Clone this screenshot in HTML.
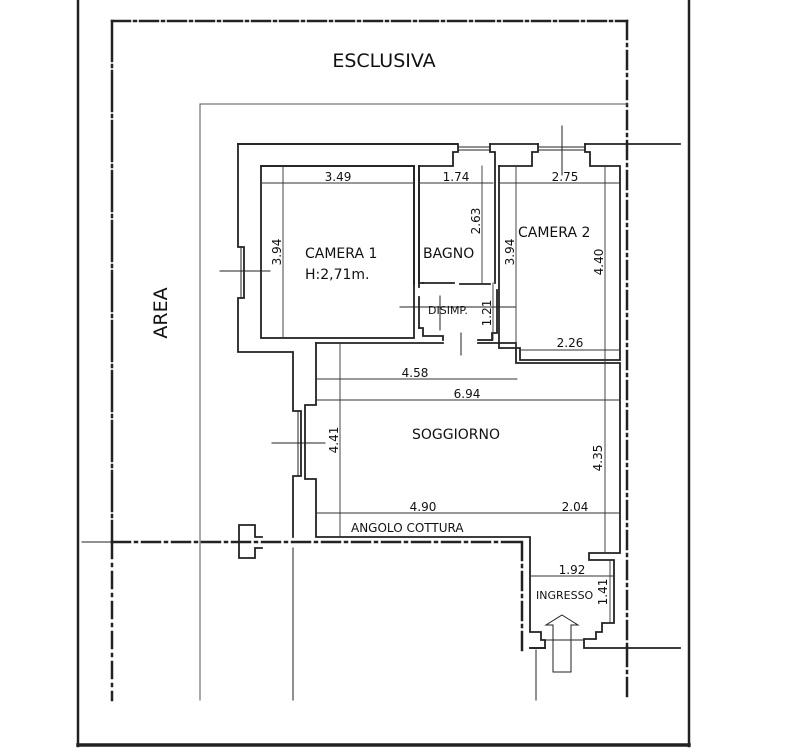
<!DOCTYPE html>
<html><head><meta charset="utf-8"><style>
html,body{margin:0;padding:0;background:#fff;}
svg{display:block;}
text{font-family:"DejaVu Sans","Liberation Sans",sans-serif;fill:#111;}
</style></head><body>
<svg width="791" height="753" viewBox="0 0 791 753" xmlns="http://www.w3.org/2000/svg">
<g fill="none" stroke="#222" stroke-linecap="square">
<!-- frame -->
<line x1="78" y1="0" x2="78" y2="746" stroke-width="2.5"/>
<line x1="689" y1="0" x2="689" y2="746" stroke-width="2.5"/>
<line x1="78" y1="745" x2="689" y2="745" stroke-width="3.5"/>
<!-- area boundary -->
<line x1="112" y1="21" x2="627" y2="21" stroke-width="2.5" stroke-dasharray="18,4,2,4"/>
<line x1="112" y1="21" x2="112" y2="542" stroke-width="2.5" stroke-dasharray="40,4,2,4"/>
<line x1="112" y1="542" x2="112" y2="700" stroke-width="2.5" stroke-dasharray="16,6,2,6"/>
<line x1="627" y1="21" x2="627" y2="648" stroke-width="2.5" stroke-dasharray="18,5,2,5"/>
<line x1="112" y1="542" x2="522" y2="542" stroke-width="2.5" stroke-dasharray="18,5,2,5"/>
<line x1="522" y1="542" x2="522" y2="650" stroke-width="2.5" stroke-dasharray="18,5,2,5"/>
<line x1="627" y1="648" x2="627" y2="700" stroke-width="2.5" stroke-dasharray="18,5,2,5"/>
<!-- thin lines -->
<polyline points="200,700 200,104 627,104" stroke-width="1" stroke="#555"/>
<line x1="293" y1="548" x2="293" y2="700" stroke-width="1"/>
<line x1="536" y1="650" x2="536" y2="700" stroke-width="1"/>
<!-- outer walls -->
<g stroke-width="1.8">
<polyline points="238,144 457,144 M 457,144"/>
<line x1="238" y1="144" x2="457" y2="144"/>
<line x1="490" y1="144" x2="538" y2="144"/>
<line x1="585" y1="144" x2="680" y2="144"/>
<polyline points="238,144 238,247 244,247 244,298 238,298 238,352 293,352 293,411 301,411 301,476 293,476 293,537"/>
<!-- camera1 -->
<polyline points="261,166 414,166 414,284 M"/>
<rect x="261" y="166" width="153" height="172"/>
<!-- bagno -->
<polyline points="419,166 419,287 M"/>
<polyline points="419,166 453,166 453,152 458,152 458,144"/>
<polyline points="490,144 490,152 495,152 495,283"/>
<polyline points="419,166 419,283 423,283"/>
<line x1="419" y1="297" x2="419" y2="328"/>
<polyline points="419,328 423,328 423,336 443,336 443,340"/>
<line x1="478" y1="340" x2="492" y2="340"/>
<polyline points="492,340 492,333 497,333 497,290"/>
<line x1="423" y1="283" x2="454" y2="283"/>
<line x1="460" y1="284" x2="490" y2="284"/>
<!-- camera2 -->
<polyline points="499,166 532,166 532,152 538,152 538,144"/>
<polyline points="585,144 585,152 590,152 590,166 620,166 620,360 520,360 520,348 499,348 499,166"/>
<!-- soggiorno -->
<polyline points="316,343 443,343"/>
<polyline points="478,343 516,343 516,363 620,363 620,553 589,553 589,560 614,560 614,623 602,623 602,632 596,632 596,639 584,639 584,648 680,648"/>
<polyline points="316,343 316,405 305,405 305,479 316,479 316,537 530,537 530,632 541,632 541,640 545,640 545,648 530,648"/>
<line x1="530" y1="648" x2="545" y2="648"/>
<line x1="545" y1="640" x2="584" y2="640" stroke-width="1"/>
<!-- pillar -->
<polyline points="262,537 255,537 255,525 239,525 239,558 255,558 255,548 262,548"/>
</g>
<!-- windows -->
<g stroke-width="1">
<line x1="241" y1="247" x2="241" y2="298"/><line x1="244" y1="247" x2="244" y2="298"/>
<line x1="298" y1="411" x2="298" y2="476"/><line x1="301" y1="411" x2="301" y2="476"/>
<line x1="458" y1="147" x2="490" y2="147"/><line x1="538" y1="147" x2="585" y2="147"/>
<line x1="458" y1="150" x2="490" y2="150"/><line x1="538" y1="150" x2="585" y2="150"/>
<line x1="220" y1="271" x2="270" y2="271"/>
<line x1="272" y1="443" x2="325" y2="443"/>
<line x1="562" y1="126" x2="562" y2="175"/>
<line x1="440" y1="296" x2="440" y2="330"/>
<line x1="400" y1="307" x2="515" y2="307"/>
<line x1="461" y1="333" x2="461" y2="355"/>
<line x1="82" y1="542" x2="112" y2="542"/>
<!-- arrow -->
<polygon points="562,615 578,625 571,625 571,672 553,672 553,625 546,625"/>
</g>
<!-- dimension lines -->
<g stroke-width="0.9" stroke="#333">
<line x1="261" y1="183" x2="414" y2="183"/>
<line x1="419" y1="183" x2="493" y2="183"/>
<line x1="499" y1="183" x2="620" y2="183"/>
<line x1="283" y1="166" x2="283" y2="338"/>
<line x1="482" y1="166" x2="482" y2="283"/>
<line x1="516" y1="166" x2="516" y2="348"/>
<line x1="605" y1="166" x2="605" y2="362"/>
<line x1="493" y1="283" x2="493" y2="340"/>
<line x1="520" y1="350" x2="620" y2="350"/>
<line x1="316" y1="379" x2="517" y2="379"/>
<line x1="316" y1="400" x2="620" y2="400"/>
<line x1="340" y1="343" x2="340" y2="537"/>
<line x1="605" y1="363" x2="605" y2="553"/>
<line x1="316" y1="513" x2="620" y2="513"/>
<line x1="530" y1="576" x2="614" y2="576"/>
<line x1="610" y1="560" x2="610" y2="623"/>
</g>
</g>
<text x="384" y="67" font-size="19" text-anchor="middle">ESCLUSIVA</text>
<text transform="translate(167,313) rotate(-90)" font-size="19" text-anchor="middle">AREA</text>
<g font-size="14">
<text x="305" y="258">CAMERA 1</text>
<text x="305" y="279">H:2,71m.</text>
<text x="423" y="258">BAGNO</text>
<text x="518" y="237">CAMERA 2</text>
<text x="412" y="439">SOGGIORNO</text>
</g>
<text x="428" y="314" font-size="11">DISIMP.</text>
<text x="351" y="532" font-size="12">ANGOLO COTTURA</text>
<text x="536" y="599" font-size="11">INGRESSO</text>
<g font-size="12" text-anchor="middle">
<text x="338" y="181">3.49</text>
<text x="456" y="181">1.74</text>
<text x="565" y="181">2.75</text>
<text x="570" y="347">2.26</text>
<text x="415" y="377">4.58</text>
<text x="467" y="398">6.94</text>
<text x="423" y="511">4.90</text>
<text x="575" y="511">2.04</text>
<text x="572" y="574">1.92</text>
<text transform="translate(281,252) rotate(-90)">3.94</text>
<text transform="translate(480,221) rotate(-90)">2.63</text>
<text transform="translate(514,252) rotate(-90)">3.94</text>
<text transform="translate(603,262) rotate(-90)">4.40</text>
<text transform="translate(491,313) rotate(-90)">1.21</text>
<text transform="translate(338,440) rotate(-90)">4.41</text>
<text transform="translate(602,458) rotate(-90)">4.35</text>
<text transform="translate(607,592) rotate(-90)">1.41</text>
</g>
</svg>
</body></html>
